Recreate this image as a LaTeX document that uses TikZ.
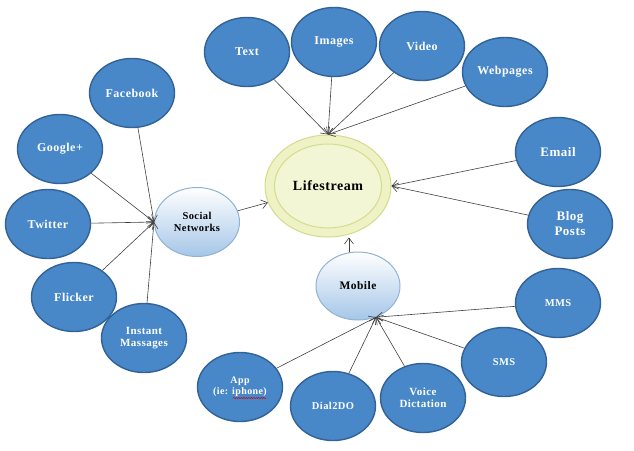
\documentclass[tikz,border=0pt]{standalone}
\usepackage{fontspec}
\setmainfont{Liberation Serif}[LetterSpace=4]
\usetikzlibrary{shapes.geometric}
\usetikzlibrary{calc}
\usetikzlibrary{arrows.meta}
\usetikzlibrary{decorations.pathmorphing}
\usepackage{xcolor}

\definecolor{leafblue}{RGB}{72,136,200}
\definecolor{leafedge}{RGB}{50,98,150}
\definecolor{hubedge}{RGB}{145,178,212}
\definecolor{hubshade}{RGB}{165,198,232}
\definecolor{lifefill}{RGB}{238,242,196}
\definecolor{lifeinner}{RGB}{243,246,212}
\definecolor{lifeedge}{RGB}{212,220,140}

\begin{document}
\begin{tikzpicture}[x=1pt, y=-1pt]
        % ================= 样式定义 =================
        \tikzset{
            % 外圈:蓝底白字
            leaf/.style={ellipse, draw=leafedge, line width=1.4pt, fill=leafblue,
                minimum width=85pt, minimum height=69pt, inner sep=0pt,
                text=white, align=center, font=\bfseries\fontsize{12}{13.5}\selectfont},
            % 中间:浅蓝渐变
            hub/.style={ellipse, draw=hubedge, line width=1pt,
                top color=white, bottom color=hubshade,
                minimum width=85pt, minimum height=69pt, inner sep=0pt,
                align=center, font=\bfseries\fontsize{10.5}{12}\selectfont},
            % 中心:黄色双圈
            life/.style={ellipse, draw=lifeedge, line width=1pt, inner sep=0pt},
            % 连线:细线开口箭头
            arr/.style={draw=black!75, line width=0.6pt,
                -{Straight Barb[length=6pt, width=9pt]}},
            squiggle/.style={draw=red!80!black, line width=0.5pt,
                decorate, decoration={snake, amplitude=0.6pt, segment length=2.5pt}}
        }
        \useasboundingbox (0,0) rectangle (634,450);

        % ================= 1. 中心 (Lifestream) =================
        \node[life, fill=lifefill, minimum width=126pt, minimum height=102pt] (life) at (328,186) {};
        \node[life, fill=lifeinner, minimum width=107pt, minimum height=84pt,
            font=\bfseries\fontsize{14}{16}\selectfont] (lifein) at (life) {Lifestream};

        % ================= 2. 两个中间节点 =================
        \node[hub] (soc) at (197,222) {Social\\Networks};
        \node[hub, minimum width=84pt, minimum height=68pt,
            font=\bfseries\fontsize{11.5}{13}\selectfont] (mob) at (358,286) {Mobile};

        \draw[arr] (soc) -- (life);
        \draw[arr] (mob.105) -- (mob.105 |- life.south);

        % ================= 3. 上方与右方 =================
        \node[leaf] (txt) at (247,52) {Text};
        \node[leaf] (img) at (334,42) {Images};
        \node[leaf] (vid) at (422,46) {Video};
        \node[leaf] (web) at (505,72) {Webpages};
        \node[leaf, font=\bfseries\fontsize{13}{15}\selectfont] (mail) at (558,152) {Email};
        \node[leaf, font=\bfseries\fontsize{13}{15}\selectfont] (blog) at (570,224) {Blog\\Posts};

        \foreach \n in {txt, img, vid, web}
            \draw[arr] (\n) -- (life.north);
        \foreach \n in {mail, blog}
            \draw[arr] (\n) -- (life.east);

        % ================= 4. 社交网络 (左) =================
        \node[leaf] (fb) at (132,93) {Facebook};
        \node[leaf] (gp) at (60,149) {Google+};
        \node[leaf] (tw) at (48,224) {Twitter};
        \node[leaf] (fl) at (74,297) {Flicker};
        \node[leaf, font=\bfseries\fontsize{11}{12}\selectfont] (im) at (144,338) {Instant\\Massages};

        \foreach \n in {fb, gp, tw, fl, im}
            \draw[arr] (\n) -- (soc.west);

        % ================= 5. 移动端 (下) =================
        \node[leaf, font=\bfseries\fontsize{10.5}{12}\selectfont] (mms) at (558,303) {MMS};
        \node[leaf, font=\bfseries\fontsize{10.5}{12}\selectfont] (sms) at (504,362) {SMS};
        \node[leaf, font=\bfseries\fontsize{11}{12}\selectfont] (voice) at (423,398) {Voice\\Dictation};
        \node[leaf, font=\bfseries\fontsize{10.5}{12}\selectfont] (dial) at (333,406) {Dial2DO};
        \node[leaf, font=\bfseries\fontsize{10}{11.5}\selectfont] (app) at (240,387) {App\\(ie: iphone)};
        \draw[squiggle] ($(app)+(-7,11)$) -- ++(33,0);

        \foreach \n in {mms, sms, voice, dial, app}
            \draw[arr] (\n) -- (mob.-60);

    \end{tikzpicture}
\end{document}
